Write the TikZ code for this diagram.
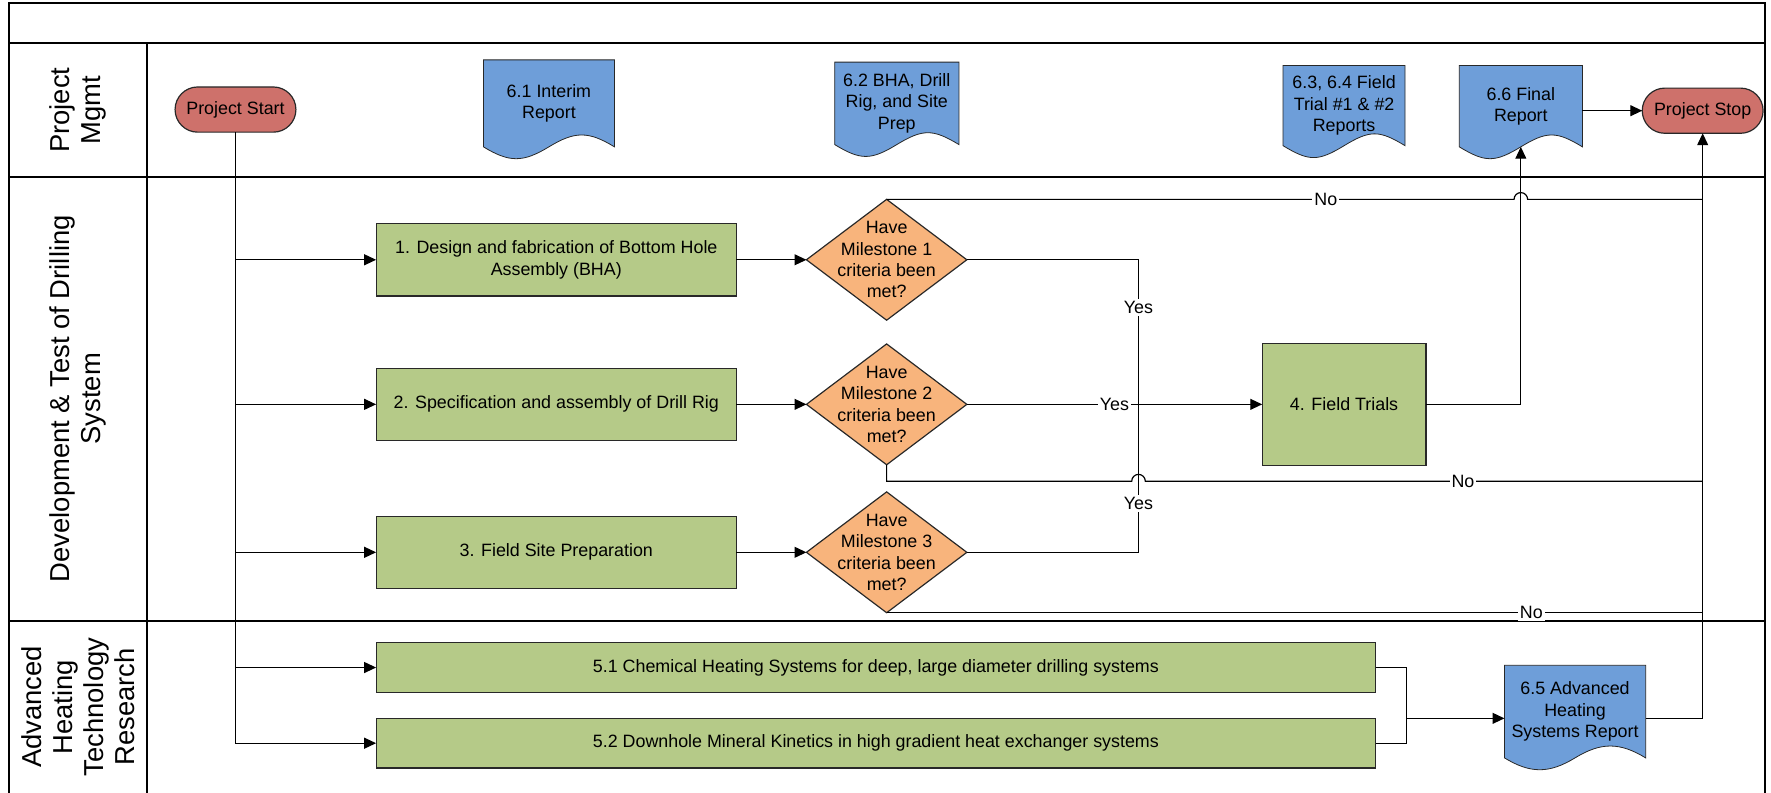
\documentclass[tikz,border=0pt]{standalone}
\usepackage{fontspec}
\setmainfont{Liberation Sans}
\newcommand*{\chartfont}{\fontsize{9}{10.8}\selectfont}
\newcommand*{\lanefont}{\fontsize{13.8}{15.6}\selectfont}
\definecolor{taskfill}{RGB}{181,202,136}
\definecolor{checkfill}{RGB}{248,180,124}
\definecolor{reportfill}{RGB}{110,158,217}
\definecolor{termfill}{RGB}{206,113,107}
\definecolor{outline}{RGB}{40,40,40}
\usetikzlibrary{arrows.meta}
\usetikzlibrary{shapes.geometric}
\pgfdeclarelayer{background}
\pgfsetlayers{background,main}
\tikzstyle{base}=[x=0.2mm, y=-0.2mm, line width=0.6pt, outer sep=0pt]
\tikzstyle{frame}=[line width=0.9pt]
\tikzstyle{lane}=[rotate=90, align=center, font=\lanefont]
\tikzstyle{terminal}=[draw=outline, fill=termfill, rectangle, rounded corners=4mm, minimum width=21.4mm, minimum height=8mm, inner sep=0pt]
\tikzstyle{task}=[draw=outline, fill=taskfill, rectangle, minimum width=63.8mm, minimum height=12.8mm, align=center, inner sep=0pt]
\tikzstyle{check}=[draw=outline, fill=checkfill, diamond, minimum width=28.4mm, minimum height=21.4mm, inner sep=0pt]
\tikzstyle{report}=[rectangle, align=center, inner sep=0pt]
\tikzstyle{flow}=[-{Triangle[length=6pt, width=5.5pt]}]
\tikzstyle{lbl}=[fill=white, inner sep=1pt]

\begin{document}
\begin{tikzpicture}[base]
    \chartfont
    \useasboundingbox (0,0) rectangle (1568,702);
    \draw [frame] (8,702) -- (8,3) -- (1563,3) -- (1563,702);
    \draw [frame] (8,38) -- (1563,38);
    \draw [frame] (8,157) -- (1563,157);
    \draw [frame] (8,550) -- (1563,550);
    \draw [frame] (130,38) -- (130,702);
    \node [lane] (mgmt) at (69,97.5) {Project\\Mgmt};
    \node [lane] (drill) at (69,353) {Development \& Test of Drilling\\System};
    \node [lane] (heat) at (69,626) {Advanced\\Heating\\Technology\\Research};

    \node [terminal] (start) at (208.5,97) {Project Start};
    \node [terminal] (stop) at (1507.5,98) {Project Stop};
    \node [report, minimum width=23.2mm, minimum height=15.4mm] (r61) at (486,91.5) {6.1 Interim\\Report};
    \node [report, minimum width=22mm, minimum height=14.6mm] (r62) at (794,91.5) {6.2 BHA, Drill\\Rig, and Site\\Prep};
    \node [report, minimum width=21.6mm, minimum height=14.2mm] (r634) at (1190,93.5) {6.3, 6.4 Field\\Trial \#1 \& \#2\\Reports};
    \node [report, minimum width=21.8mm, minimum height=14.4mm] (r66) at (1346.5,94) {6.6 Final\\Report};
    \node [report, minimum width=25mm, minimum height=16.4mm] (r65) at (1394.5,630) {6.5 Advanced\\Heating\\Systems Report};

    \node [task] (b1) at (492.5,230) {1. Design and fabrication of Bottom Hole\\Assembly (BHA)};
    \node [task] (b2) at (492.5,358) {2. Specification and assembly of Drill Rig};
    \node [task] (b3) at (492.5,489) {3. Field Site Preparation};
    \node [task, minimum width=29mm, minimum height=21.6mm] (b4) at (1190,358) {4. Field Trials};
    \node [task, minimum width=177mm, minimum height=8.8mm] (b51) at (775.5,591) {5.1 Chemical Heating Systems for deep, large diameter drilling systems};
    \node [task, minimum width=177mm, minimum height=8.8mm] (b52) at (775.5,658) {5.2 Downhole Mineral Kinetics in high gradient heat exchanger systems};
    \node [check, label={[align=center]center:{Have\\Milestone 1\\criteria been\\met?}}] (d1) at (785,230) {};
    \node [check, label={[align=center]center:{Have\\Milestone 2\\criteria been\\met?}}] (d2) at (785,358) {};
    \node [check, label={[align=center]center:{Have\\Milestone 3\\criteria been\\met?}}] (d3) at (785,489) {};

    \draw [flow] (start.south) |- (b1.west);
    \draw [flow] (start.south) |- (b2.west);
    \draw [flow] (start.south) |- (b3.west);
    \draw [flow] (start.south) |- (b51.west);
    \draw [flow] (start.south) |- (b52.west);
    \draw [flow] (b1) -- (d1);
    \draw [flow] (b2) -- (d2);
    \draw [flow] (b3) -- (d3);

    \coordinate (yes) at (1008,358);
    \draw (d1.east) -- (d1.east -| yes) -- node [lbl, pos=0.33] {Yes} (yes);
    \draw (d3.east) -- (d3.east -| yes) -- node [lbl, pos=0.33] {Yes} (yes);
    \draw [flow] (d2) -- node [lbl] {Yes} (b4);
    \draw [flow] (b4.east) -| (r66.south);
    \draw [flow] (r66.east |- stop.west) -- (stop.west);

    \coordinate (hopA) at (r66.south |- d1.north);
    \coordinate (hopB) at (1008,426);
    \draw (d1.north) -- node [lbl, pos=0.70] {No} ([xshift=-1.2mm]hopA) arc [start angle=180, end angle=360, radius=6] -- (hopA -| stop.south);
    \draw (d2.south) -- (d2.south |- hopB) -- ([xshift=-1.2mm]hopB) arc [start angle=180, end angle=360, radius=6] -- node [lbl, pos=0.57] {No} (hopB -| stop.south);
    \draw (d3.south) -- node [lbl, pos=0.79] {No} (d3.south -| stop.south);

    \coordinate (merge) at (1245,636);
    \draw (b51.east) -| (merge) |- (b52.east);
    \draw [flow] (merge) -- (merge -| r65.west);
    \draw [flow] (merge -| r65.east) -| (stop.south);

    \begin{pgfonlayer}{background}
        \foreach \r in {r61,r62,r634,r66,r65}
            \draw [draw=outline, fill=reportfill] (\r.north west) -- (\r.north east) -- (\r.south east)
                .. controls +(-23,-14) and +(23,-14) .. (\r.south)
                .. controls +(-23,14) and +(23,14) .. (\r.south west) -- cycle;
    \end{pgfonlayer}
\end{tikzpicture}
\end{document}
